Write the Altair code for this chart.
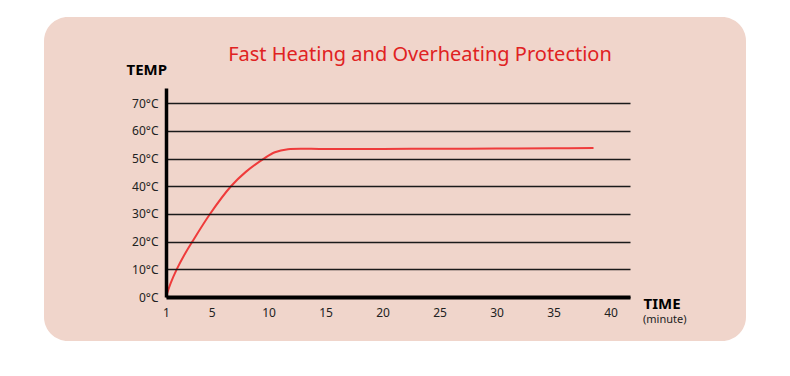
import altair as alt
import pandas as pd

# data
time_min = [1, 1.41, 1.94, 2.58, 3.31, 4.86, 6.7, 8.0, 9.59, 10.55, 11.7, 15, 20, 25, 30, 35, 38.5]
temp_c = [0, 5, 10, 15, 20, 30, 40, 45.2, 50, 52.3, 53.4, 53.45, 53.5, 53.55, 53.6, 53.7, 53.8]
x_ticks = [1, 5, 10, 15, 20, 25, 30, 35, 40]
y_ticks = [0, 10, 20, 30, 40, 50, 60, 70]
title_text = "Fast Heating and Overheating Protection"

df = pd.DataFrame({"time": time_min, "temp": temp_c})

PLOT_W, PLOT_H = 464, 209
LEFT, TOP = 166, 88

bg = alt.Chart(pd.DataFrame({"a": [0]})).mark_rect(
    color="#f0d5cb", cornerRadius=24
).encode(
    x=alt.value(44 - LEFT), x2=alt.value(746 - LEFT),
    y=alt.value(17 - TOP), y2=alt.value(341 - TOP)
)

line = alt.Chart(df).mark_line(
    color="#ef3b3b", strokeWidth=2, interpolate="catmull-rom"
).encode(
    x=alt.X("time:Q", scale=alt.Scale(domain=[1, 41.7], nice=False, zero=False),
            axis=alt.Axis(values=x_ticks, title="TIME", grid=False, zindex=1,
                          domainWidth=4, domainColor="#000", ticks=False,
                          labelPadding=10, labelFontSize=12, labelColor="#222",
                          labelFont="Noto Sans", labelFlush=False,
                          titleFont="Noto Sans", titleFontSize=15, titleFontWeight="bold",
                          titleColor="#000", titleAnchor="start", titleAlign="left",
                          titleBaseline="alphabetic", titleX=477, titleY=11)),
    y=alt.Y("temp:Q", scale=alt.Scale(domain=[0, 75.5], nice=False),
            axis=alt.Axis(values=y_ticks, title="TEMP", grid=True, zindex=1,
                          gridColor="#1a1a1a", gridWidth=1.7, gridOpacity=1,
                          domainWidth=3.5, domainColor="#000", ticks=False,
                          labelExpr="datum.value + '°C'", labelPadding=8,
                          labelFontSize=12, labelColor="#222", labelFont="Noto Sans",
                          titleFont="Noto Sans", titleFontSize=15, titleFontWeight="bold",
                          titleColor="#000", titleAngle=0, titleAlign="left",
                          titleBaseline="alphabetic", titleX=-40, titleY=-14))
)

minute = alt.Chart(pd.DataFrame({"a": ["(minute)"]})).mark_text(
    align="left", baseline="alphabetic", fontSize=11, font="Noto Sans", color="#222"
).encode(text="a:N", x=alt.value(643 - LEFT), y=alt.value(323 - TOP))

title = alt.Chart(pd.DataFrame({"a": [title_text]})).mark_text(
    align="center", baseline="alphabetic", fontSize=20, font="Noto Sans", color="#e02222"
).encode(text="a:N", x=alt.value(420 - LEFT), y=alt.value(61 - TOP))

chart = alt.layer(bg, line, minute, title).properties(
    width=PLOT_W, height=PLOT_H,
    autosize=alt.AutoSizeParams(type="none"),
    padding={"left": LEFT, "top": TOP, "right": 790 - LEFT - PLOT_W, "bottom": 376 - TOP - PLOT_H},
    background="#ffffff"
).configure_view(stroke=None)

chart.save("out.html", embed_options={"renderer": "svg", "actions": False})
